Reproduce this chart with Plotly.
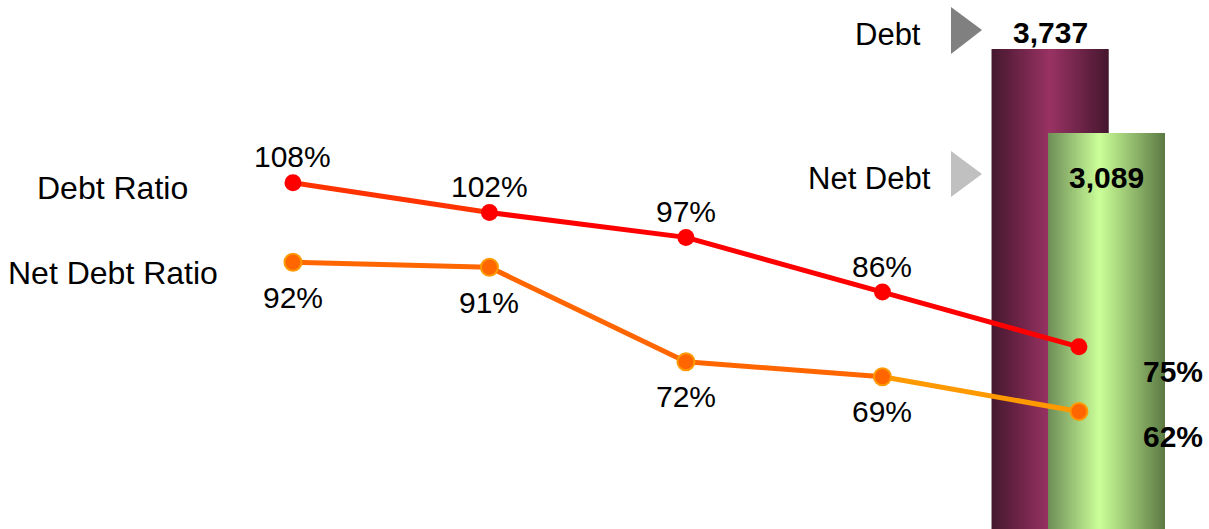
import numpy as np
import plotly.graph_objects as go

# ---------------- data ----------------
periods = [1, 2, 3, 4, 5]
debt_ratio = [108, 102, 97, 86, 75]
net_debt_ratio = [92, 91, 72, 69, 62]
ratio_names = ["Debt Ratio", "Net Debt Ratio"]

bar_categories = ["Debt", "Net Debt"]
bar_values = [3737, 3089]

# ---------------- styles ----------------
FONT = "Liberation Sans, Arial, sans-serif"
FS = 30
W_PX, H_PX = 1209, 529


def hex2rgb(h):
    h = h.lstrip("#")
    return np.array([int(h[i:i + 2], 16) for i in (0, 2, 4)], dtype=float)


def gradient(left, peak, right, fpeak, n):
    cl, cp, cr = hex2rgb(left), hex2rgb(peak), hex2rgb(right)
    cols = []
    for k in range(n):
        f = (k + 0.5) / n
        if f <= fpeak:
            t = f / fpeak
            c = cl + (cp - cl) * t
        else:
            t = (f - fpeak) / (1 - fpeak)
            c = cp + (cr - cp) * t
        cols.append("rgb(%d,%d,%d)" % tuple(np.clip(c, 0, 255)))
    return cols


bar_grad = [
    ("#46182F", "#9A3364", "#46182F", 0.50),
    ("#6E8E58", "#CCFF99", "#5C7A44", 0.44),
]
BAR_W = 2.07
N_STRIPES = 58

fig = go.Figure()

# gradient bars built from thin overlapping bar stripes
for cat, val, (gl, gp, gr, fp) in zip(bar_categories, bar_values, bar_grad):
    sw = BAR_W / N_STRIPES
    offs = [-BAR_W / 2 + k * sw for k in range(N_STRIPES)]
    widths = [min(sw * 2.5, BAR_W / 2 - o) for o in offs]
    fig.add_trace(go.Bar(
        x=[cat] * N_STRIPES,
        y=[val] * N_STRIPES,
        width=widths,
        offset=offs,
        marker=dict(color=gradient(gl, gp, gr, fp, N_STRIPES), line=dict(width=0)),
        hoverinfo="skip",
        xaxis="x", yaxis="y",
    ))

# line segments (colour changes per segment)
debt_seg_colors = ["#FF3300", "#FF0000", "#FF0000", "#FF0000"]
net_seg_colors = ["#FF6600", "#FF6600", "#FF6600", "#FF9900"]
for series, segcols in ((debt_ratio, debt_seg_colors), (net_debt_ratio, net_seg_colors)):
    for i in range(len(periods) - 1):
        fig.add_trace(go.Scatter(
            x=periods[i:i + 2], y=series[i:i + 2], mode="lines",
            line=dict(color=segcols[i], width=5),
            xaxis="x2", yaxis="y2", hoverinfo="skip",
        ))

# markers
fig.add_trace(go.Scatter(
    x=periods, y=debt_ratio, mode="markers",
    marker=dict(size=17, color="#FF0000"),
    xaxis="x2", yaxis="y2",
))
fig.add_trace(go.Scatter(
    x=periods, y=net_debt_ratio, mode="markers",
    marker=dict(size=17, color="#FF6600", line=dict(color="#FF9900", width=2)),
    xaxis="x2", yaxis="y2",
))

annotations = []
# point labels
for series, ysh in ((debt_ratio, 26), (net_debt_ratio, -35)):
    for p, v in zip(periods[:-1], series[:-1]):
        annotations.append(dict(
            x=p, y=v, xref="x2", yref="y2", text=f"{v}%", showarrow=False,
            xanchor="center", yanchor="middle", yshift=ysh,
            font=dict(family=FONT, size=FS, color="black"),
        ))
    # final point labels (bold, to the right)
    annotations.append(dict(
        x=periods[-1], y=series[-1], xref="x2", yref="y2",
        text=f"<b>{series[-1]}%</b>", showarrow=False,
        xanchor="left", yanchor="middle", xshift=62, yshift=-25,
        font=dict(family=FONT, size=FS, color="black"),
    ))

# series names on the left
for name, ypix in zip(ratio_names, (188, 273)):
    annotations.append(dict(
        x=113 / W_PX, y=1 - ypix / H_PX, xref="paper", yref="paper",
        text=name, showarrow=False, xanchor="center", yanchor="middle",
        font=dict(family=FONT, size=32, color="black"),
    ))

# bar names with triangle pointers
for name, xr, ypix in zip(bar_categories, (923, 933), (35, 178)):
    annotations.append(dict(
        x=xr / W_PX, y=1 - ypix / H_PX, xref="paper", yref="paper",
        text=name, showarrow=False, xanchor="right", yanchor="middle",
        font=dict(family=FONT, size=31, color="black"),
    ))

# bar values
for cat, val, ysh in zip(bar_categories, bar_values, (17, -45)):
    annotations.append(dict(
        x=cat, y=val, xref="x", yref="y",
        text=f"<b>{val:,}</b>", showarrow=False,
        xanchor="center", yanchor="middle", yshift=ysh,
        font=dict(family=FONT, size=FS, color="black"),
    ))

shapes = []
for (top, bot, mid), col in (((7, 54, 30), "#808080"), ((151, 197, 174), "#C0C0C0")):
    x0, x1 = 951 / W_PX, 982 / W_PX
    path = "M %f %f L %f %f L %f %f Z" % (
        x0, 1 - top / H_PX, x0, 1 - bot / H_PX, x1, 1 - mid / H_PX)
    shapes.append(dict(type="path", path=path, xref="paper", yref="paper",
                       fillcolor=col, line=dict(width=0)))

fig.update_layout(
    width=W_PX, height=H_PX,
    margin=dict(l=0, r=0, t=0, b=0),
    paper_bgcolor="white", plot_bgcolor="white",
    showlegend=False, barmode="overlay",
    font=dict(family=FONT, size=FS, color="black"),
    xaxis=dict(type="category", range=[-18.584, 2.814], visible=False, fixedrange=True),
    yaxis=dict(range=[31, 4116], visible=False, fixedrange=True),
    xaxis2=dict(overlaying="x", range=[-0.491, 5.662], visible=False, fixedrange=True),
    yaxis2=dict(overlaying="y", range=[38.38, 144.72], visible=False, fixedrange=True),
    annotations=annotations,
    shapes=shapes,
    hovermode=False,
)

fig.write_html("out.html")
